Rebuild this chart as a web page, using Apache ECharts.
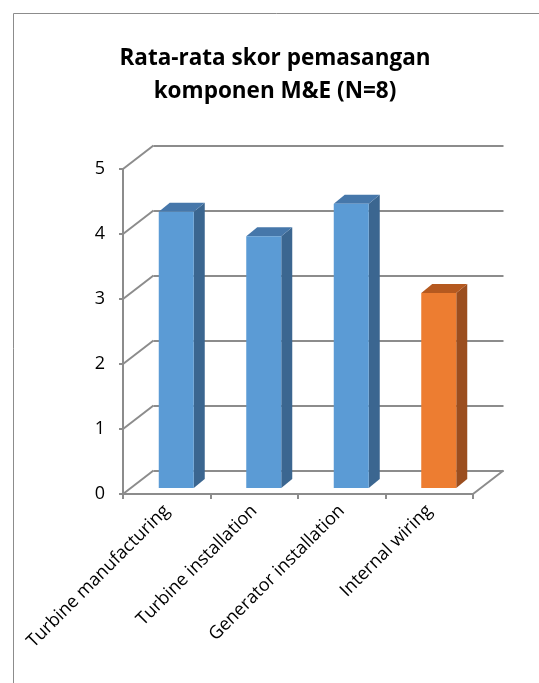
<!DOCTYPE html>
<html>
<head>
<meta charset="utf-8">
<script src="https://cdn.jsdelivr.net/npm/echarts@6/dist/echarts.min.js"></script>
<style>
  html, body { margin: 0; padding: 0; background: #fff; }
  #chart { width: 539px; height: 683px; }
</style>
</head>
<body>
<div id="chart"></div>
<script>
const categories = ['Turbine manufacturing', 'Turbine installation', 'Generator installation', 'Internal wiring']
const scores = [4.25, 3.875, 4.375, 3.0]
const yTicks = [0, 1, 2, 3, 4, 5]

// kleur per balk: voorkant, zijkant, bovenkant
const barColors = [
  ['#5b9bd5', '#3b6690', '#4677aa'],
  ['#5b9bd5', '#3b6690', '#4677aa'],
  ['#5b9bd5', '#3b6690', '#4677aa'],
  ['#ed7d31', '#9b4e1f', '#b5591f']
]

// diepte van de 3D-wand (px)
const wallDx = 30.5
const wallDy = -23.5
const gridColor = '#8c8c8c'
const font = '"Open Sans", sans-serif'

const chart = echarts.init(document.getElementById('chart'))

function renderBar(params, api) {
  const idx = api.value(0)
  const top = api.coord([idx, api.value(1)])
  const base = api.coord([idx, 0])
  const catW = api.size([1, 0])[0]
  const w = catW * 0.4
  const shiftX = 9.5, shiftY = -6
  const dx = 11, dy = -9
  const x0 = top[0] - w / 2 + shiftX
  const x1 = x0 + w
  const yT = top[1] + shiftY
  const yB = base[1] + shiftY
  const c = barColors[idx]
  return {
    type: 'group',
    children: [
      { type: 'polygon', shape: { points: [[x1, yT], [x1 + dx, yT + dy], [x1 + dx, yB + dy], [x1, yB]] }, style: { fill: c[1] } },
      { type: 'polygon', shape: { points: [[x0, yT], [x0 + dx, yT + dy], [x1 + dx, yT + dy], [x1, yT]] }, style: { fill: c[2] } },
      { type: 'rect', shape: { x: x0, y: yT, width: w, height: yB - yT }, style: { fill: c[0] } }
    ]
  }
}

function renderSlant(params, api) {
  const cs = params.coordSys
  const p = api.coord([0, api.value(0)])
  const lines = [
    { type: 'line', shape: { x1: cs.x, y1: p[1], x2: cs.x + wallDx, y2: p[1] + wallDy }, style: { stroke: gridColor, lineWidth: 2 } }
  ]
  if (api.value(0) === 0) {
    lines.push({ type: 'line', shape: { x1: cs.x + cs.width, y1: p[1], x2: cs.x + cs.width + wallDx, y2: p[1] + wallDy }, style: { stroke: gridColor, lineWidth: 2 } })
  }
  return { type: 'group', children: lines }
}

const option = {
  animation: false,
  graphic: [
    { type: 'rect', left: 11, top: 11, shape: { width: 560, height: 700 }, style: { fill: 'none', stroke: '#8c8c8c', lineWidth: 1 }, z: -10 }
  ],
  title: {
    text: 'Rata-rata skor pemasangan\nkomponen M&E (N=8)',
    left: 270,
    top: 37,
    textAlign: 'center',
    textStyle: { fontFamily: font, fontSize: 22.5, fontWeight: 'bold', color: '#000', lineHeight: 33 }
  },
  grid: [
    { left: 123, top: 169, width: 350, height: 325 },
    { left: 123 + wallDx, top: 169 + wallDy, width: 350, height: 325 }
  ],
  xAxis: [
    {
      type: 'category',
      gridIndex: 0,
      data: categories,
      axisLine: { lineStyle: { color: gridColor, width: 2 } },
      axisTick: { show: true, length: 5, lineStyle: { color: gridColor, width: 2 } },
      axisLabel: { rotate: 45, fontFamily: font, fontSize: 18, color: '#000', margin: 14, interval: 0 }
    },
    { type: 'category', gridIndex: 1, data: categories, show: false }
  ],
  yAxis: [
    {
      type: 'value',
      gridIndex: 0,
      min: 0,
      max: 5,
      interval: 1,
      axisLine: { show: true, lineStyle: { color: gridColor, width: 2 } },
      axisTick: { show: true, length: 4, lineStyle: { color: gridColor, width: 2 } },
      axisLabel: { fontFamily: font, fontSize: 18, color: '#000', margin: 18 },
      splitLine: { show: false }
    },
    {
      type: 'value',
      gridIndex: 1,
      min: 0,
      max: 5,
      interval: 1,
      axisLine: { show: false },
      axisTick: { show: false },
      axisLabel: { show: false },
      splitLine: { show: true, lineStyle: { color: gridColor, width: 2 } }
    }
  ],
  series: [
    {
      type: 'custom',
      xAxisIndex: 0,
      yAxisIndex: 0,
      renderItem: renderSlant,
      data: yTicks.map(v => [v]),
      encode: { y: 0 },
      z: 1
    },
    {
      type: 'custom',
      xAxisIndex: 0,
      yAxisIndex: 0,
      renderItem: renderBar,
      data: scores.map((v, i) => [i, v]),
      encode: { x: 0, y: 1 },
      z: 5
    }
  ]
}

chart.setOption(option)
</script>
</body>
</html>
